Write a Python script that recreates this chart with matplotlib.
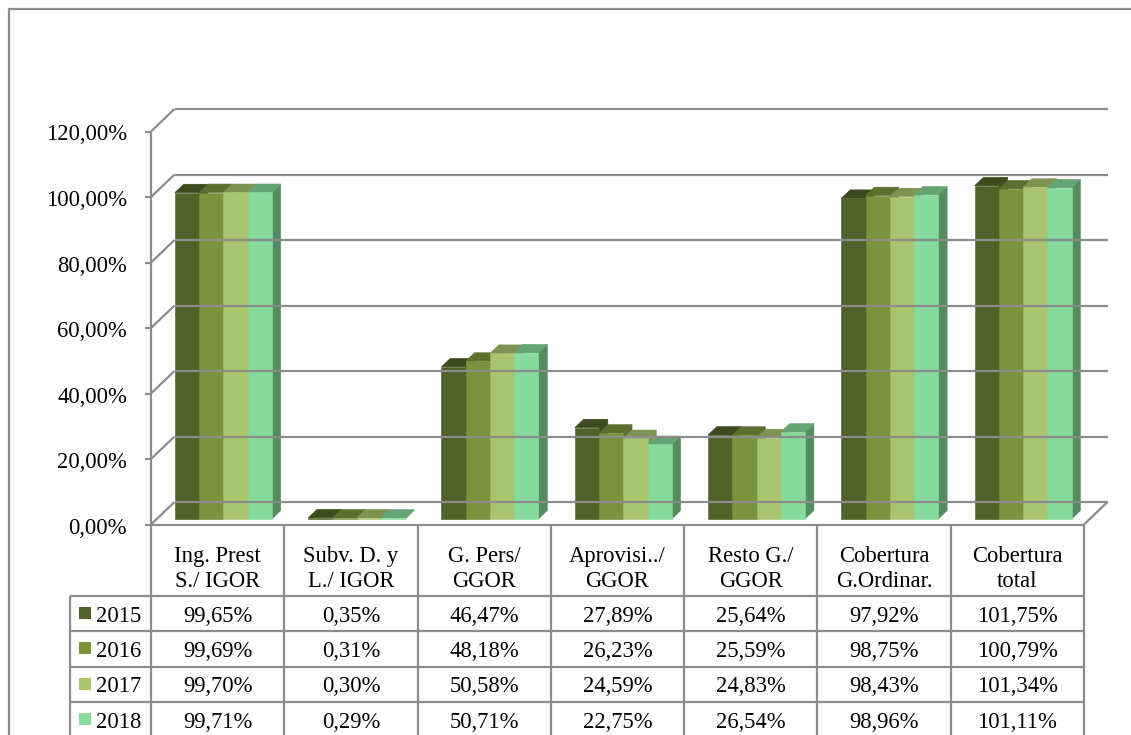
import matplotlib
matplotlib.use('Agg')
import matplotlib.pyplot as plt
import matplotlib.transforms as mtransforms
from matplotlib.patches import Polygon, Rectangle
from matplotlib.lines import Line2D

# data
categories = ['Ing. Prest\nS./ IGOR', 'Subv. D. y\nL./ IGOR', 'G. Pers/\nGGOR',
              'Aprovisi../\nGGOR', 'Resto G./\nGGOR', 'Cobertura\nG.Ordinar.',
              'Cobertura\ntotal']
years = ['2015', '2016', '2017', '2018']
v2015 = [99.65, 0.35, 46.47, 27.89, 25.64, 97.92, 101.75]
v2016 = [99.69, 0.31, 48.18, 26.23, 25.59, 98.75, 100.79]
v2017 = [99.70, 0.30, 50.58, 24.59, 24.83, 98.43, 101.34]
v2018 = [99.71, 0.29, 50.71, 22.75, 26.54, 98.96, 101.11]
series = [v2015, v2016, v2017, v2018]
yticks = [0, 20, 40, 60, 80, 100, 120]

# colours: front, top, side
front = ['#4f6228', '#7a933d', '#a8c46f', '#86da9b']
top = ['#3c4a1e', '#5c6f2e', '#7e9453', '#65a575']
side = ['#3b491e', '#5b6e2d', '#7d9352', '#548c62']
grid_c = '#8c8c8c'

plt.rcParams['font.family'] = ['Liberation Serif', 'DejaVu Serif']
FS = 16.3

W, H = 1131, 735
fig = plt.figure(figsize=(W / 100, H / 100), dpi=100)
fig.patch.set_facecolor('white')

x_left, x_right, y_bot, y_top = 151, 1084, 524.5, 131.5
ax = fig.add_axes([x_left / W, (H - y_bot) / H, (x_right - x_left) / W, (y_bot - y_top) / H])
ax.set_xlim(0, 7)
ax.set_ylim(0, 120)
ax.axis('off')

px_x = (x_right - x_left) / 7
px_y = (y_bot - y_top) / 120
DX = 23.5 / px_x
DY = 22.5 / px_y


def proj(x, y, z):
    return (x + z * DX, y + z * DY)


def seg(p, q, **kw):
    ax.add_line(Line2D([p[0], q[0]], [p[1], q[1]], color=grid_c, lw=1.6,
                       clip_on=False, solid_capstyle='butt', **kw))


# walls and gridlines
for t in yticks:
    seg(proj(0, t, 0), proj(0, t, 1))
    seg(proj(0, t, 1), proj(7, t, 1))
    seg((-6 / px_x, t), (0, t))
seg((0, 0), (0, 120))
seg((0, 0), (7, 0))
seg(proj(7, 0, 0), proj(7, 0, 1))

# y tick labels
for t in yticks:
    ax.text(-24 / px_x, t - 9 / px_y, f'{t:.2f}'.replace('.', ',') + '%',
            ha='right', va='baseline', fontsize=FS, color='black')

# 3D bars
bw = 0.182
z0, z1 = 0.245, 0.62
for i in range(len(categories)):
    for j, vals in enumerate(series):
        v = vals[i]
        x0 = i + 0.5 - 2 * bw + j * bw
        x1 = x0 + bw
        sd = [proj(x1, 0, z0), proj(x1, 0, z1), proj(x1, v, z1), proj(x1, v, z0)]
        tp = [proj(x0, v, z0), proj(x1, v, z0), proj(x1, v, z1), proj(x0, v, z1)]
        fr = [proj(x0, 0, z0), proj(x1, 0, z0), proj(x1, v, z0), proj(x0, v, z0)]
        for pts, c in ((sd, side[j]), (tp, top[j]), (fr, front[j])):
            ax.add_patch(Polygon(pts, closed=True, facecolor=c, edgecolor=c,
                                 lw=0.4, clip_on=False))

# data table (x in data units, y in pixels from the top)
ytr = mtransforms.Affine2D().scale(1, -1).translate(0, H)
tt = mtransforms.blended_transform_factory(ax.transData, ytr)
leg_x = -81 / px_x
rows = [596, 631, 666.5, 702, 737]


def tline(xs, ys):
    fig.add_artist(Line2D(xs, ys, transform=tt, color=grid_c, lw=1.6,
                          solid_capstyle='butt'))


for i in range(8):
    tline([i, i], [y_bot, H + 5])
for r in rows[:-1]:
    tline([leg_x, 7], [r, r])
tline([leg_x, leg_x], [rows[0], H + 5])

for i, lab in enumerate(categories):
    fig.text(i + 0.5, 569, lab, transform=tt, ha='center', va='center',
             multialignment='center', fontsize=FS, linespacing=1.2)

for j, (yr, vals) in enumerate(zip(years, series)):
    base = rows[j] + 25.7
    mid = (rows[j] + rows[j + 1]) / 2
    fig.add_artist(Rectangle((leg_x + 9 / px_x, mid - 6 - 0.5), 12 / px_x, 12,
                             transform=tt, facecolor=front[j], edgecolor='none'))
    fig.text(leg_x + 26 / px_x, base, yr, transform=tt, ha='left',
             va='baseline', fontsize=FS)
    for i, v in enumerate(vals):
        fig.text(i + 0.5, base, f'{v:.2f}'.replace('.', ',') + '%', transform=tt,
                 ha='center', va='baseline', fontsize=FS)

# chart area border
pix = mtransforms.Affine2D().scale(1, -1).translate(0, H)
fig.add_artist(Line2D([8.5, 8.5, W + 5], [H + 5, 9, 9], transform=pix,
                      color=grid_c, lw=1.6))

fig.savefig('out.png', dpi=100)
